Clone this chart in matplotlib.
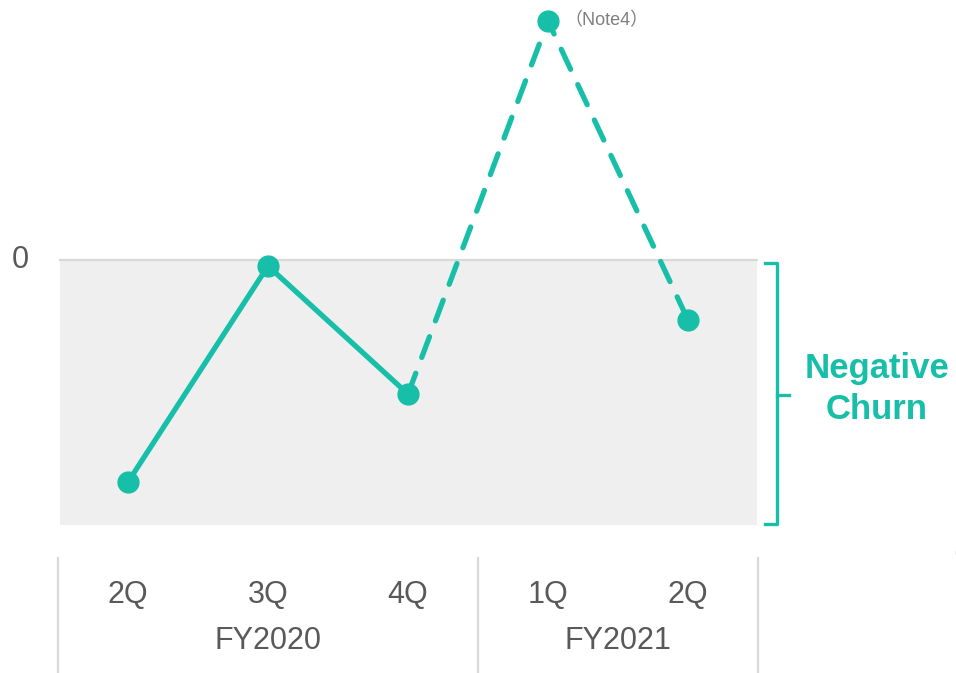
import matplotlib.pyplot as plt
from matplotlib.lines import Line2D

# quarterly churn index (zero = break-even, below zero = negative churn)
quarters = ["2Q", "3Q", "4Q", "1Q", "2Q"]
years = ["FY2020", "FY2021"]
year_centers = [1.0, 3.5]
year_bounds = [-0.5, 2.5, 4.5]
churn = [-2.22, -0.06, -1.34, 2.39, -0.60]
band_floor = -2.65
note = "（Note4）"

teal = "#17BFA8"
grey_txt = "#595959"
rule = "#D9D9D9"

plt.rcParams["font.family"] = ["Liberation Sans", "Noto Sans CJK JP", "DejaVu Sans"]

fig = plt.figure(figsize=(9.56, 6.73), dpi=100)
ax = fig.add_axes([58 / 956, 0, 700 / 956, 1])
ax.set_xlim(-0.5, 4.5)
ax.set_ylim(-4.13, 2.60)
ax.axis("off")

# shaded negative-churn band and the zero line
ax.axhspan(band_floor, 0, xmin=0.003, xmax=0.998, color="#EFEFEF", lw=0, zorder=0)
ax.axhline(0, xmin=0.003, xmax=0.998, color=rule, lw=1.6, zorder=1)
ax.text(-0.77, 0, "0", ha="center", va="center", fontsize=22, color=grey_txt,
        clip_on=False)

x = list(range(len(churn)))
ax.plot(x[:3], churn[:3], color=teal, lw=3.8, solid_capstyle="round", zorder=2)
ax.plot(x[2:], churn[2:], color=teal, lw=3.8, ls=(0, (4.2, 3.2)),
        dash_capstyle="round", zorder=2)
ax.plot(x, churn, "o", color=teal, ms=15, zorder=3, clip_on=False)

ax.text(x[3] + 0.12, churn[3], note, ha="left", va="center", fontsize=13,
        color="#808080")

# bracket for the band
bx, hook, tip = 4.636, 4.55, 4.72
mid = band_floor / 2 - 0.02
ax.add_line(Line2D([hook, bx, bx, hook], [-0.03, -0.03, band_floor + 0.01, band_floor + 0.01],
                   color=teal, lw=2.4, clip_on=False, solid_joinstyle="round"))
ax.add_line(Line2D([bx, tip], [mid, mid], color=teal, lw=2.4, clip_on=False))
ax.text(5.35, -1.29, "Negative\nChurn", ha="center", va="center", fontsize=25,
        fontweight="bold", color=teal, linespacing=1.3, clip_on=False)

# category axis: quarters with fiscal-year groups
for xi, q in zip(x, quarters):
    ax.text(xi, -3.35, q, ha="center", va="center", fontsize=22, color=grey_txt)
for xc, yr in zip(year_centers, years):
    ax.text(xc, -3.81, yr, ha="center", va="center", fontsize=22, color=grey_txt)
ax.vlines(year_bounds, -4.2, -2.97, color=rule, lw=1.6, clip_on=False)

fig.text(953 / 956, 1 - 553 / 673, "(", ha="left", va="center", fontsize=22,
         color=grey_txt)

fig.savefig("out.png", dpi=100)
